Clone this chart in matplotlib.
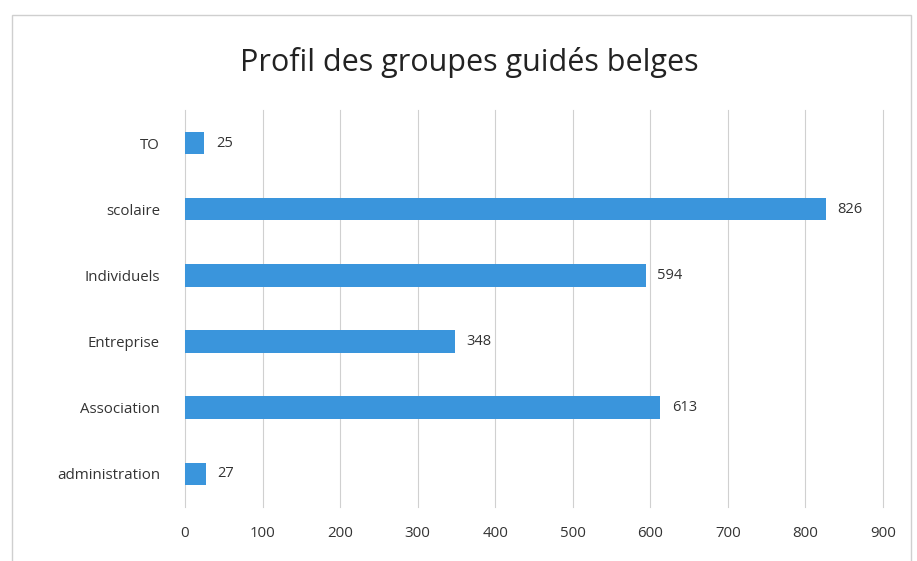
import matplotlib
matplotlib.use('Agg')
import matplotlib.pyplot as plt
from matplotlib.patches import Rectangle

categories = ['administration', 'Association', 'Entreprise', 'Individuels', 'scolaire', 'TO']
values = [27, 613, 348, 594, 826, 25]
xticks = [0, 100, 200, 300, 400, 500, 600, 700, 800, 900]

plt.rcParams['font.family'] = ['Open Sans', 'DejaVu Sans']

fig = plt.figure(figsize=(9.17, 5.61), dpi=100)
ax = fig.add_axes([0.2017, 0.0963, 0.7612, 0.7077])

bars = ax.barh(categories, values, height=0.34, color='#3a95dc', zorder=3)
for b, v in zip(bars, values):
    ax.text(b.get_width() + 15, b.get_y() + b.get_height() / 2, str(v),
            va='center', ha='left', fontsize=10.5, color='#333333')

ax.set_xlim(0, 900)
ax.set_ylim(-0.5, len(categories) - 0.5)
ax.set_xticks(xticks)
ax.grid(axis='x', color='#d0d0d0', linewidth=0.8, zorder=0)
for gl in ax.get_xgridlines():
    gl.set_clip_on(False)
for s in ax.spines.values():
    s.set_visible(False)
ax.tick_params(axis='both', length=0, labelsize=10.8, labelcolor='#333333')
ax.tick_params(axis='x', pad=14)
ax.tick_params(axis='y', pad=18)

fig.text(0.512, 0.888, 'Profil des groupes guidés belges', ha='center', va='center',
         fontsize=22, color='#222222')

fig.patches.append(Rectangle((0.013, -0.01), 0.98, 0.983, transform=fig.transFigure,
                             fill=False, edgecolor='#cfcfcf', linewidth=1))

fig.savefig('out.png', dpi=100)
